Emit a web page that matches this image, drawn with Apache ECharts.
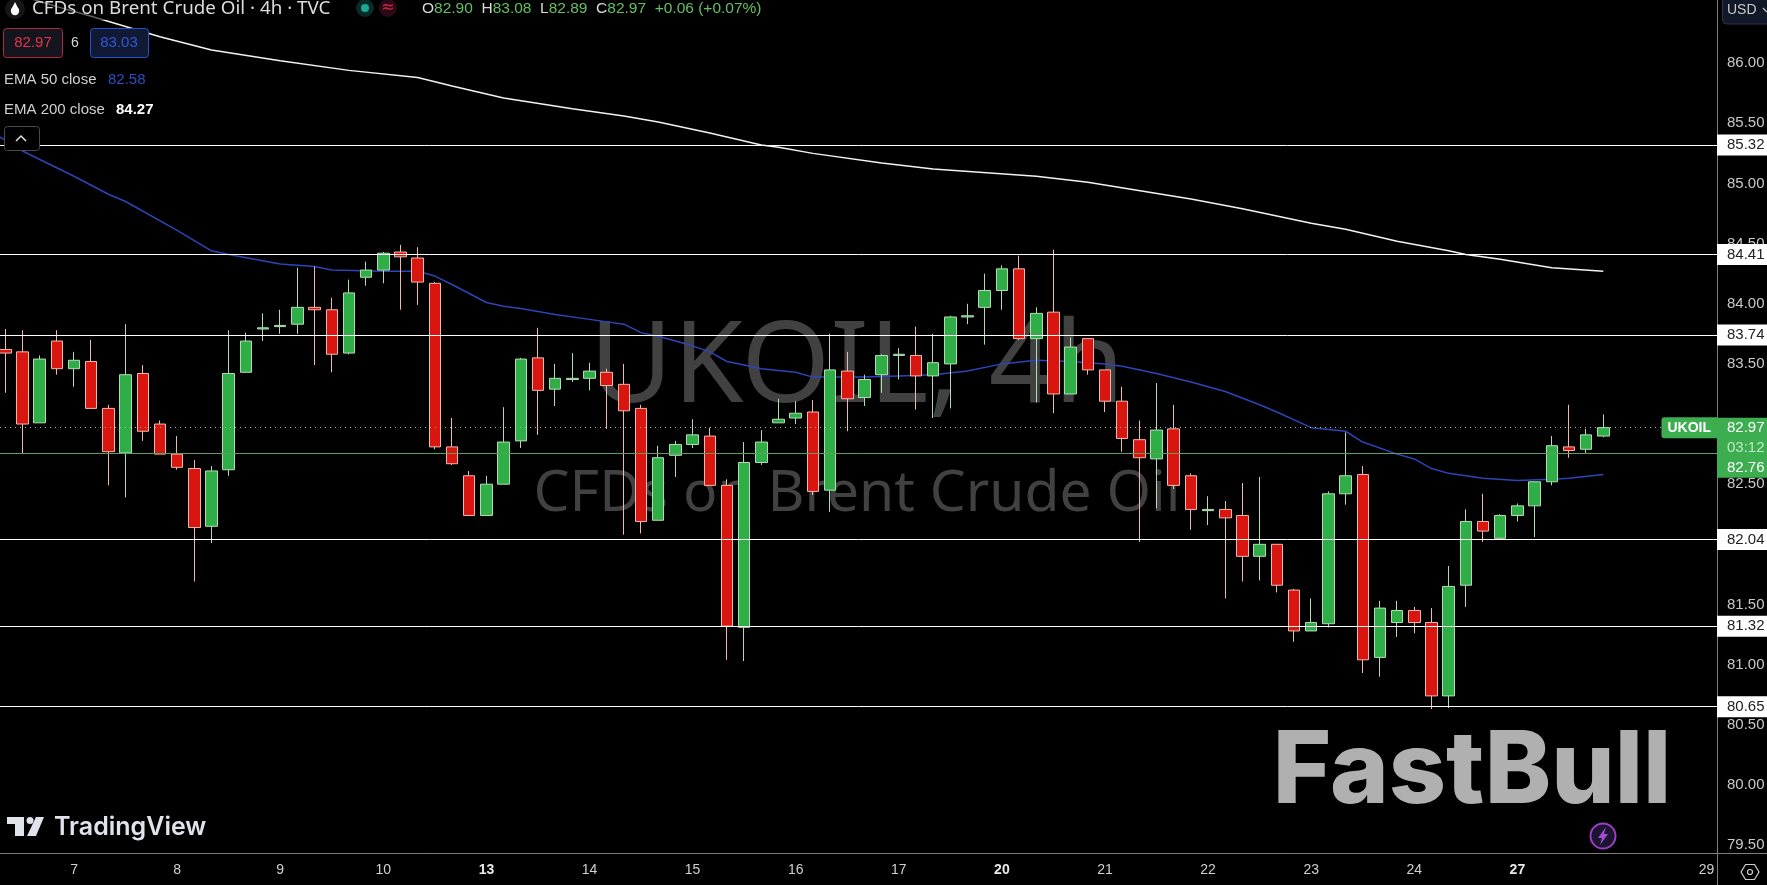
<!DOCTYPE html>
<html>
<head>
<meta charset="utf-8">
<title>UKOIL 4h</title>
<style>
    html, body { margin: 0; padding: 0; background: #000; }
    #main { width: 1767px; height: 885px; }
</style>
<script src="https://cdn.jsdelivr.net/npm/echarts@6/dist/echarts.min.js"></script>
</head>
<body>
<div id="main"></div>
<script>
// 4h candles
const opens = [83.62,83.60,83.01,83.69,83.46,83.52,83.13,82.76,83.42,83.00,82.75,82.63,82.15,82.62,83.43,83.79,83.81,83.83,83.97,83.95,83.59,84.22,84.28,84.43,84.38,84.17,82.81,82.57,82.24,82.50,82.86,83.55,83.29,83.37,83.38,83.43,83.33,83.13,82.20,82.74,82.83,82.90,82.49,81.31,82.68,83.01,83.05,83.10,82.45,83.44,83.22,83.41,83.57,83.57,83.40,83.50,83.89,83.97,84.11,84.29,83.71,83.93,83.25,83.71,83.45,83.19,82.87,82.71,82.96,82.57,82.28,82.29,82.24,81.90,82.00,81.62,81.28,81.34,82.42,82.58,81.06,81.35,81.45,81.35,80.74,81.66,82.19,82.05,82.24,82.32,82.52,82.81,82.79,82.90];
const closes = [83.59,83.00,83.54,83.46,83.53,83.13,82.77,83.41,82.94,82.75,82.64,82.14,82.61,83.42,83.69,83.80,83.82,83.97,83.95,83.58,84.09,84.28,84.42,84.39,84.18,82.81,82.67,82.24,82.50,82.85,83.54,83.28,83.38,83.38,83.44,83.32,83.11,82.19,82.72,82.83,82.91,82.49,81.32,82.68,82.85,83.04,83.09,82.44,83.45,83.21,83.37,83.57,83.58,83.40,83.51,83.89,83.90,84.11,84.29,83.71,83.92,83.25,83.64,83.45,83.19,82.88,82.72,82.95,82.49,82.29,82.29,82.22,81.90,82.00,81.66,81.28,81.35,82.42,82.57,81.04,81.47,81.45,81.35,80.74,81.65,82.19,82.11,82.24,82.32,82.52,82.82,82.78,82.91,82.97];
const lows = [83.26,82.75,83.01,83.41,83.31,83.13,82.49,82.39,82.86,82.75,82.62,81.69,82.01,82.57,83.43,83.69,83.75,83.75,83.49,83.43,83.58,84.15,84.17,83.95,83.99,82.79,82.66,82.24,82.24,82.50,82.80,82.91,83.15,83.35,83.28,82.96,82.08,82.09,82.20,82.56,82.80,82.49,81.04,81.03,82.66,83.01,83.00,82.41,82.27,82.94,83.15,83.26,83.37,83.12,83.05,83.13,83.83,83.66,83.95,83.70,83.18,83.09,83.25,83.41,83.10,82.77,82.02,82.30,82.46,82.12,82.16,81.55,81.69,81.70,81.60,81.19,81.28,81.31,82.33,80.93,80.90,81.23,81.26,80.63,80.64,81.48,82.02,82.04,82.19,82.06,82.49,82.72,82.76,82.89];
const highs = [83.79,83.78,83.57,83.78,83.60,83.70,83.16,83.83,83.49,83.03,82.90,82.70,82.65,83.78,83.76,83.92,83.95,84.30,84.31,84.05,84.20,84.35,84.43,84.49,84.47,84.18,83.05,82.61,82.57,83.14,83.55,83.80,83.50,83.59,83.51,83.46,83.50,83.16,82.82,82.86,83.04,82.97,82.54,82.85,82.95,83.21,83.19,83.20,83.75,83.60,83.41,83.58,83.63,83.81,83.75,83.90,84.00,84.25,84.32,84.40,83.97,84.45,83.72,83.71,83.45,83.31,83.03,83.34,83.16,82.59,82.40,82.36,82.51,82.56,82.00,81.63,81.55,82.44,82.93,82.65,81.53,81.53,81.48,81.47,81.82,82.29,82.42,82.25,82.34,82.52,82.90,83.16,82.96,83.08];

// EMA lines, read at the candles where they can be read
const ema50Idx = [-1,0,1,4,6,7,10,12,13,16,18,19,22,24,25,26,28,29,30,32,34,36,37,38,40,41,42,43,44,46,47,48,50,52,54,56,58,60,62,63,64,65,67,69,71,73,74,76,78,79,81,82,83,84,86,88,90,91,93];
const ema50Val = [85.44,85.36,85.27,85.06,84.91,84.85,84.61,84.44,84.41,84.33,84.31,84.28,84.27,84.27,84.23,84.16,84.01,83.98,83.96,83.91,83.87,83.83,83.76,83.73,83.65,83.60,83.52,83.49,83.46,83.43,83.39,83.39,83.39,83.40,83.41,83.44,83.50,83.53,83.52,83.51,83.50,83.48,83.42,83.35,83.27,83.16,83.10,82.97,82.94,82.85,82.75,82.71,82.63,82.59,82.55,82.53,82.54,82.55,82.58];
const ema200Idx = [0,3,5,9,12,16,20,24,26,29,33,36,38,41,44,45,47,51,54,60,63,69,72,76,78,81,84,85,87,90,93];
const ema200Val = [86.60,86.47,86.39,86.22,86.11,86.02,85.94,85.88,85.81,85.71,85.62,85.56,85.51,85.42,85.32,85.30,85.25,85.17,85.12,85.06,85.01,84.87,84.79,84.67,84.62,84.52,84.44,84.41,84.37,84.30,84.27];

// horizontal levels and price tags
const levels = [85.32, 84.41, 83.74, 82.04, 81.32, 80.65];
const lastPrice = 82.97;
const prevPrice = 82.76;
const priceTicks = [79.5,80,80.5,81,81.5,82,82.5,83,83.5,84,84.5,85,85.5,86];
const dayIdx = [4,10,16,22,28,34,40,46,52,58,64,70,76,82,88,99];
const dayLabels = ['7','8','9','10','13','14','15','16','17','20','21','22','23','24','27','29'];
const boldDays = ['13','20','27'];

const candleRows = opens.map((o, i) => [i, o, closes[i], lows[i], highs[i]]);
const axisFont = '"Liberation Sans", sans-serif';
const uiFont = '"Liberation Sans", sans-serif';
const titleFont = '"Noto Sans", sans-serif';

const levelLines = levels.map(v => ({
    yAxis: v,
    lineStyle: { color: '#fff', width: 1, type: 'solid', opacity: 1 },
    label: {
        show: true,
        position: 'end',
        distance: 0,
        formatter: v.toFixed(2),
        color: '#222',
        backgroundColor: '#fff',
        fontFamily: axisFont,
        fontSize: 15,
        width: 40,
        padding: [3, 0, 1, 10],
        lineHeight: 17,
        align: 'left'
    }
}));

let option = {
    backgroundColor: '#000',
    animation: false,
    grid: { left: 0, right: 50, top: 0, bottom: 32, outerBoundsMode: 'none' },
    xAxis: {
        type: 'value',
        min: -0.308,
        max: 99.616,
        splitLine: { show: false },
        axisTick: { show: false },
        axisLine: { show: true, onZero: false, lineStyle: { color: '#7d7d7d', width: 1 } },
        axisLabel: {
            customValues: dayIdx,
            margin: 10,
            color: '#d0d0d0',
            fontFamily: axisFont,
            fontSize: 14,
            formatter: value => {
                const text = dayLabels[dayIdx.indexOf(value)] || '';
                return boldDays.includes(text) ? '{b|' + text + '}' : text;
            },
            rich: { b: { fontWeight: 'bold', color: '#e8e8e8', fontFamily: axisFont, fontSize: 14 } }
        }
    },
    yAxis: {
        type: 'value',
        position: 'right',
        min: 79.434,
        max: 86.525,
        splitLine: { show: false },
        axisTick: { show: false },
        axisLine: { show: true, onZero: false, lineStyle: { color: '#7d7d7d', width: 1 } },
        axisLabel: {
            customValues: priceTicks,
            margin: 10,
            color: '#c8c8c8',
            fontFamily: axisFont,
            fontSize: 15,
            formatter: value => value.toFixed(2)
        }
    },
    series: [
        {
            name: 'EMA 200',
            type: 'line',
            z: 1,
            symbol: 'none',
            silent: true,
            lineStyle: { color: '#f2f2f2', width: 1.5 },
            data: ema200Idx.map((x, i) => [x, ema200Val[i]]),
            markLine: {
                silent: true,
                symbol: 'none',
                animation: false,
                data: levelLines.concat([
                    {
                        yAxis: prevPrice,
                        lineStyle: { color: '#5f9e60', width: 1, type: 'solid', opacity: 1 },
                        label: { show: false }
                    },
                    {
                        yAxis: lastPrice,
                        lineStyle: { color: '#a8c0a8', width: 1, type: [1, 4], opacity: 1 },
                        label: {
                            show: true,
                            position: 'end',
                            distance: 0,
                            verticalAlign: 'top',
                            offset: [0, -10],
                            formatter: '{p|' + lastPrice.toFixed(2) + '}\n{t|03:12}\n{p|' + prevPrice.toFixed(2) + '}',
                            backgroundColor: '#3cae50',
                            width: 40,
                            padding: [0, 0, 0, 10],
                            align: 'left',
                            rich: {
                                p: { color: '#fff', fontFamily: axisFont, fontSize: 15, lineHeight: 20 },
                                t: { color: '#bfe8c8', fontFamily: axisFont, fontSize: 15, lineHeight: 20 }
                            }
                        }
                    },
                    {
                        yAxis: lastPrice,
                        lineStyle: { color: 'rgba(0,0,0,0)', width: 1, type: 'solid', opacity: 1 },
                        label: {
                            show: true,
                            position: 'insideEnd',
                            distance: 0,
                            formatter: 'UKOIL',
                            color: '#fff',
                            fontWeight: 'bold',
                            fontFamily: uiFont,
                            fontSize: 14,
                            backgroundColor: '#3cae50',
                            borderRadius: [3, 0, 0, 3],
                            padding: [4, 6, 3, 6]
                        }
                    }
                ])
            }
        },
        {
            name: 'EMA 50',
            type: 'line',
            z: 1,
            symbol: 'none',
            silent: true,
            lineStyle: { color: '#2c45b8', width: 1.5 },
            data: ema50Idx.map((x, i) => [x, ema50Val[i]])
        },
        {
            name: 'UKOIL',
            type: 'candlestick',
            z: 2,
            silent: true,
            barWidth: 12,
            encode: { x: 0, y: [1, 2, 3, 4] },
            itemStyle: {
                color: '#2fae48',
                color0: '#d8160f',
                borderColor: '#b4dcb4',
                borderColor0: '#efb9ae',
                borderWidth: 1
            },
            data: candleRows
        }
    ],
    graphic: [
        // watermarks sit under the candles
        { type: 'text', z: 0, silent: true, style: { x: 857, y: 370, text: 'UKOIL, 4h', fill: '#414141', font: '114px "Noto Sans", sans-serif', textAlign: 'center', textVerticalAlign: 'middle' } },
        { type: 'text', z: 0, silent: true, style: { x: 857, y: 495, text: 'CFDs on Brent Crude Oil', fill: '#414141', font: '57px "Noto Sans", sans-serif', textAlign: 'center', textVerticalAlign: 'middle' } },
        { type: 'text', z: 0, silent: true, style: { x: 1472, y: 773, text: 'FastBull', fill: '#b0b0b0', font: '800 100px Inter, sans-serif', textAlign: 'center', textVerticalAlign: 'middle' } },
        { type: 'circle', z: 3, silent: true, shape: { cx: 1603, cy: 836, r: 12.5 }, style: { fill: '#1c1430', stroke: '#9a3fc2', lineWidth: 2 } },
        { type: 'polygon', z: 3, silent: true, shape: { points: [[1606, 827], [1598, 838], [1602, 838], [1600, 845], [1608, 834], [1604, 834]] }, style: { fill: '#a04fd0' } },

        // TradingView mark
        { type: 'polygon', z: 3, silent: true, shape: { points: [[7, 817], [24, 817], [24, 836], [15, 836], [15, 824], [7, 824]] }, style: { fill: '#e0e3eb' } },
        { type: 'circle', z: 3, silent: true, shape: { cx: 30, cy: 820.5, r: 3.5 }, style: { fill: '#e0e3eb' } },
        { type: 'polygon', z: 3, silent: true, shape: { points: [[36, 817], [44, 817], [36, 836], [27, 836]] }, style: { fill: '#e0e3eb' } },
        { type: 'text', z: 3, silent: true, style: { x: 54, y: 827, text: 'TradingView', fill: '#e0e3eb', font: '600 25px Inter, sans-serif', textVerticalAlign: 'middle' } },

        // legend
        { type: 'rect', z: 10, silent: true, shape: { x: 0, y: 0, width: 340, height: 20 }, style: { fill: 'rgba(0,0,0,0.6)' } },
        { type: 'circle', z: 11, silent: true, shape: { cx: 15, cy: 9, r: 10 }, style: { fill: '#161616' } },
        { type: 'circle', z: 11, silent: true, shape: { cx: 15, cy: 11, r: 4.2 }, style: { fill: '#fff' } },
        { type: 'polygon', z: 11, silent: true, shape: { points: [[15, 2], [11.2, 9.5], [18.8, 9.5]] }, style: { fill: '#fff' } },
        { type: 'text', z: 11, silent: true, style: { x: 32, y: 9, text: 'CFDs on Brent Crude Oil · 4h · TVC', fill: '#dcdcdc', font: '18.8px ' + titleFont, textVerticalAlign: 'middle' } },
        { type: 'circle', z: 11, silent: true, shape: { cx: 365, cy: 8, r: 9 }, style: { fill: '#0a2a26' } },
        { type: 'circle', z: 11, silent: true, shape: { cx: 365, cy: 8, r: 4 }, style: { fill: '#1ea88f' } },
        { type: 'circle', z: 11, silent: true, shape: { cx: 388, cy: 8, r: 9 }, style: { fill: '#2a0a14' } },
        { type: 'text', z: 11, silent: true, style: { x: 388, y: 8, text: '≈', fill: '#d8264c', font: '16px "DejaVu Sans"', textAlign: 'center', textVerticalAlign: 'middle' } },
        {
            type: 'text', z: 11, silent: true,
            style: {
                x: 422, y: 9, textVerticalAlign: 'middle',
                text: '{l|O}{v|82.90}  {l|H}{v|83.08}  {l|L}{v|82.89}  {l|C}{v|82.97}  {v|+0.06} {v|(+0.07%)}',
                font: '15.5px ' + uiFont,
                rich: {
                    l: { fill: '#d8d8d8', font: '15.5px ' + uiFont },
                    v: { fill: '#62c060', font: '15.5px ' + uiFont }
                }
            }
        },
        { type: 'rect', z: 11, silent: true, shape: { x: 3.5, y: 28.5, width: 59, height: 29, r: 3 }, style: { fill: '#15151f', stroke: '#b0283c', lineWidth: 1 } },
        { type: 'text', z: 12, silent: true, style: { x: 33, y: 43, text: '82.97', fill: '#e8334a', font: '15px ' + uiFont, textAlign: 'center', textVerticalAlign: 'middle' } },
        { type: 'text', z: 11, silent: true, style: { x: 75, y: 43, text: '6', fill: '#d8d8d8', font: '14px ' + uiFont, textAlign: 'center', textVerticalAlign: 'middle' } },
        { type: 'rect', z: 11, silent: true, shape: { x: 90.5, y: 28.5, width: 58, height: 29, r: 3 }, style: { fill: '#111a33', stroke: '#2a4fd0', lineWidth: 1 } },
        { type: 'text', z: 12, silent: true, style: { x: 119, y: 43, text: '83.03', fill: '#2f58dc', font: '15px ' + uiFont, textAlign: 'center', textVerticalAlign: 'middle' } },
        { type: 'text', z: 11, silent: true, style: { x: 4, y: 79.5, text: 'EMA 50 close', fill: '#d0d0d0', font: '15px ' + uiFont, textVerticalAlign: 'middle' } },
        { type: 'text', z: 11, silent: true, style: { x: 108, y: 79.5, text: '82.58', fill: '#2d4ec4', font: '15px ' + uiFont, textVerticalAlign: 'middle' } },
        { type: 'text', z: 11, silent: true, style: { x: 4, y: 109.5, text: 'EMA 200 close', fill: '#d0d0d0', font: '15px ' + uiFont, textVerticalAlign: 'middle' } },
        { type: 'text', z: 11, silent: true, style: { x: 116, y: 109.5, text: '84.27', fill: '#fff', font: 'bold 15px ' + uiFont, textVerticalAlign: 'middle' } },
        { type: 'rect', z: 11, silent: true, shape: { x: 4.5, y: 126.5, width: 35, height: 24, r: 3 }, style: { fill: '#000', stroke: '#4a4a4a', lineWidth: 1 } },
        { type: 'polyline', z: 12, silent: true, shape: { points: [[16, 141], [21, 136], [26, 141]] }, style: { stroke: '#e0e0e0', lineWidth: 1.5, fill: 'none' } },

        // corner furniture on the axes
        { type: 'rect', z: 11, silent: true, shape: { x: 1722.5, y: -4, width: 50, height: 28, r: 4 }, style: { fill: '#111827', stroke: '#2a3350', lineWidth: 1 } },
        { type: 'text', z: 12, silent: true, style: { x: 1727, y: 10, text: 'USD', fill: '#c8c8c8', font: '14px ' + uiFont, textVerticalAlign: 'middle' } },
        { type: 'polyline', z: 12, silent: true, shape: { points: [[1763, 8], [1767, 12]] }, style: { stroke: '#c8c8c8', lineWidth: 1.2, fill: 'none' } },
        { type: 'line', z: 3, silent: true, shape: { x1: 1717, y1: 853.5, x2: 1767, y2: 853.5 }, style: { stroke: '#7d7d7d', lineWidth: 1 } },
        { type: 'line', z: 3, silent: true, shape: { x1: 1717.5, y1: 853, x2: 1717.5, y2: 885 }, style: { stroke: '#7d7d7d', lineWidth: 1 } },
        { type: 'polygon', z: 3, silent: true, shape: { points: [[1741, 872], [1745.5, 864.5], [1754.5, 864.5], [1759, 872], [1754.5, 879.5], [1745.5, 879.5]] }, style: { fill: 'none', stroke: '#d0d0d0', lineWidth: 1.2 } },
        { type: 'circle', z: 3, silent: true, shape: { cx: 1750, cy: 872, r: 2.5 }, style: { fill: 'none', stroke: '#d0d0d0', lineWidth: 1.2 } }
    ]
};

const myChart = echarts.init(document.getElementById('main'), null, { renderer: 'canvas' });
myChart.setOption(option);
window.addEventListener('resize', () => { myChart.resize(); });
</script>
</body>
</html>
